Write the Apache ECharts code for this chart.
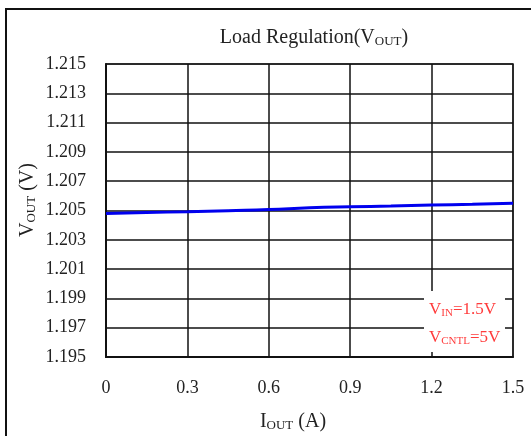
<!DOCTYPE html>
<html>
<head>
<meta charset="utf-8">
<script src="https://cdn.jsdelivr.net/npm/echarts@6/dist/echarts.min.js"></script>
<style>html,body{margin:0;padding:0;background:#fff}#c{width:531px;height:436px}</style>
</head>
<body>
<div id="c"></div>
<script>
const iout = [0, 0.15, 0.3, 0.45, 0.6, 0.75, 0.9, 1.05, 1.2, 1.35, 1.5];
const vout = [1.2048, 1.20486, 1.20492, 1.20499, 1.20506, 1.20518, 1.20525, 1.2053, 1.20537, 1.20543, 1.2055];
const yTicks = [1.195, 1.197, 1.199, 1.201, 1.203, 1.205, 1.207, 1.209, 1.211, 1.213, 1.215];
const xTicks = [0, 0.3, 0.6, 0.9, 1.2, 1.5];

const FONT = '"Liberation Serif", "DejaVu Serif", serif';
const chart = echarts.init(document.getElementById('c'));
chart.setOption({
  animation: false,
  backgroundColor: '#fff',
  grid: { left: 106, right: 18, top: 64, bottom: 79, show: true, borderColor: '#777', borderWidth: 2, backgroundColor: 'transparent' },
  xAxis: {
    type: 'value', min: 0, max: 1.5, interval: 0.3,
    axisLine: { show: true, lineStyle: { color: '#111', width: 2 } },
    axisTick: { show: false },
    axisLabel: { color: '#222', fontFamily: FONT, fontSize: 18, margin: 22, customValues: xTicks, formatter: v => String(v) },
    splitLine: { show: true, lineStyle: { color: '#111', width: 1.5 } }
  },
  yAxis: {
    type: 'value', min: 1.195, max: 1.215,
    axisLine: { show: true, lineStyle: { color: '#111', width: 2 } },
    axisTick: { show: false, customValues: yTicks },
    axisLabel: { color: '#222', fontFamily: FONT, fontSize: 18, margin: 20, customValues: yTicks, formatter: v => v.toFixed(3) },
    splitLine: { show: true, lineStyle: { color: '#111', width: 1.5 } }
  },
  series: [{
    type: 'line', data: iout.map((x, i) => [x, vout[i]]), showSymbol: false, smooth: true,
    lineStyle: { color: '#0000ee', width: 3 }, z: 5
  }],
  graphic: [
    { type: 'rect', shape: { x: 6, y: 9, width: 700, height: 700 }, style: { fill: 'none', stroke: '#111', lineWidth: 2 }, silent: true, z: 1 },
    { type: 'rect', shape: { x: 424, y: 291, width: 81, height: 61 }, style: { fill: '#fff' }, z: 50 },
    { type: 'text', x: 314, y: 38, z: 60, style: { text: '{a|Load Regulation(V}{s|OUT}{a|)}', align: 'center', verticalAlign: 'middle',
      rich: { a: { fontFamily: FONT, fontSize: 20, fill: '#222' }, s: { fontFamily: FONT, fontSize: 13, fill: '#222', padding: [8, 0, 0, 0] } } } },
    { type: 'text', x: 293, y: 422, z: 60, style: { text: '{a|I}{s|OUT}{a| (A)}', align: 'center', verticalAlign: 'middle',
      rich: { a: { fontFamily: FONT, fontSize: 20, fill: '#222' }, s: { fontFamily: FONT, fontSize: 13, fill: '#222', padding: [8, 0, 0, 0] } } } },
    { type: 'text', x: 28, y: 200, rotation: Math.PI / 2, z: 60, style: { text: '{a|V}{s|OUT}{a| (V)}', align: 'center', verticalAlign: 'middle',
      rich: { a: { fontFamily: FONT, fontSize: 20, fill: '#222' }, s: { fontFamily: FONT, fontSize: 13, fill: '#222', padding: [8, 0, 0, 0] } } } },
    { type: 'text', x: 429, y: 310, z: 60, style: { text: '{a|V}{s|IN}{a|=1.5V}', align: 'left', verticalAlign: 'middle',
      rich: { a: { fontFamily: FONT, fontSize: 17, fill: '#ff3b3b' }, s: { fontFamily: FONT, fontSize: 11, fill: '#ff3b3b', padding: [7, 0, 0, 0] } } } },
    { type: 'text', x: 429, y: 338, z: 60, style: { text: '{a|V}{s|CNTL}{a|=5V}', align: 'left', verticalAlign: 'middle',
      rich: { a: { fontFamily: FONT, fontSize: 17, fill: '#ff3b3b' }, s: { fontFamily: FONT, fontSize: 11, fill: '#ff3b3b', padding: [7, 0, 0, 0] } } } }
  ]
});
</script>
</body>
</html>
